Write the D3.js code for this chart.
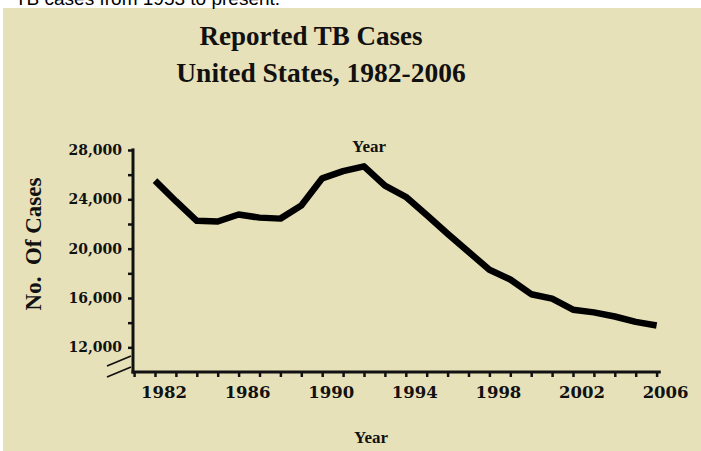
<!DOCTYPE html>
<html>
<head>
<meta charset="utf-8">
<script src="https://cdn.jsdelivr.net/npm/d3@7"></script>
<style>
  html, body { margin: 0; padding: 0; background: #ffffff; }
  svg { display: block; }
</style>
</head>
<body>
<svg id="chart" width="701" height="451"></svg>
<script>
// ---- data ----
const years = [1982, 1983, 1984, 1985, 1986, 1987, 1988, 1989, 1990, 1991, 1992, 1993,
               1994, 1995, 1996, 1997, 1998, 1999, 2000, 2001, 2002, 2003, 2004, 2005, 2006];
const cases = [25520, 23846, 22255, 22201, 22768, 22517, 22436, 23495, 25701, 26283, 26673, 25108,
               24206, 22727, 21210, 19751, 18286, 17500, 16308, 15945, 15055, 14835, 14499, 14065, 13767];
const xTickLabels = [1982, 1986, 1990, 1994, 1998, 2002, 2006];
const yTickValues = [12000, 14000, 16000, 18000, 20000, 22000, 24000, 26000, 28000];
const yTickLabels = [12000, 16000, 20000, 24000, 28000];
const titleLines = ["Reported TB Cases", "United States, 1982-2006"];
const captionText = "TB cases from 1953 to present.";

// ---- drawing ----
const svg = d3.select("#chart");
const ink = "#111111";
const serif = "'Liberation Serif', 'Times New Roman', serif";
const numFont = "'DejaVu Serif', serif";

svg.append("rect").attr("x", 3).attr("y", 8).attr("width", 698).attr("height", 443)
  .attr("fill", "#e7e1ba");

svg.append("text").attr("x", 15).attr("y", 5)
  .attr("font-family", "'Liberation Sans', Arial, sans-serif").attr("font-size", 19)
  .attr("fill", "#000").text(captionText);

svg.append("text").attr("x", 311).attr("y", 45).attr("text-anchor", "middle")
  .attr("font-family", serif).attr("font-weight", "bold").attr("font-size", 27)
  .attr("fill", ink).text(titleLines[0]);
svg.append("text").attr("x", 321).attr("y", 82).attr("text-anchor", "middle")
  .attr("font-family", serif).attr("font-weight", "bold").attr("font-size", 27.5)
  .attr("fill", ink).text(titleLines[1]);

const x = d3.scaleLinear().domain([1982, 2006]).range([155, 656.6]);
const y = d3.scaleLinear().domain([10000, 28000]).range([372, 150]);

// Y axis
const yAxis = d3.axisLeft(y).tickValues(yTickValues).tickSize(5).tickSizeOuter(0).tickPadding(6)
  .tickFormat(d => yTickLabels.includes(d) ? d3.format(",")(d) : "");
const gy = svg.append("g").attr("transform", "translate(133,0)").call(yAxis);
gy.select(".domain").remove();
gy.selectAll(".tick line").attr("stroke", ink).attr("stroke-width", 2.5);
gy.selectAll(".tick text").attr("font-family", numFont).attr("font-weight", "bold")
  .attr("font-size", 14).attr("fill", ink);
svg.append("line").attr("x1", 133).attr("x2", 133).attr("y1", y(28130)).attr("y2", 373.5)
  .attr("stroke", ink).attr("stroke-width", 3);

// X axis
const xAxis = d3.axisBottom(x).tickValues(d3.range(1981, 2007)).tickSize(5).tickSizeOuter(0)
  .tickFormat(d => xTickLabels.includes(d) ? String(d) : "");
const gx = svg.append("g").attr("transform", "translate(0,372)").call(xAxis);
gx.select(".domain").remove();
gx.selectAll(".tick line").attr("stroke", ink).attr("stroke-width", 2.5);
gx.selectAll(".tick text").attr("font-family", numFont).attr("font-weight", "bold")
  .attr("font-size", 16.5).attr("fill", ink).attr("y", 26).attr("dy", 0).attr("dx", 8.5);
svg.append("line").attr("x1", 131.5).attr("x2", x(2006.2)).attr("y1", 372).attr("y2", 372)
  .attr("stroke", ink).attr("stroke-width", 3);

// axis break marks
const brk = svg.append("g").attr("stroke", ink).attr("stroke-width", 1.8);
brk.append("line").attr("x1", 107).attr("y1", 366).attr("x2", 131).attr("y2", 356);
brk.append("line").attr("x1", 107).attr("y1", 377).attr("x2", 131).attr("y2", 367);

// axis titles
svg.append("text").attr("transform", "translate(41,244) rotate(-90)").attr("text-anchor", "middle")
  .attr("font-family", serif).attr("font-weight", "bold").attr("font-size", 23)
  .attr("fill", ink).attr("xml:space", "preserve").text("No.  Of Cases");
svg.append("text").attr("x", 371).attr("y", 443).attr("text-anchor", "middle")
  .attr("font-family", serif).attr("font-weight", "bold").attr("font-size", 17)
  .attr("fill", ink).text("Year");
svg.append("text").attr("x", 369).attr("y", 151.5).attr("text-anchor", "middle")
  .attr("font-family", serif).attr("font-weight", "bold").attr("font-size", 17)
  .attr("fill", ink).text("Year");

// line
const line = d3.line().x((d, i) => x(years[i])).y(d => y(d));
svg.append("path").datum(cases).attr("d", line)
  .attr("fill", "none").attr("stroke", "#000").attr("stroke-width", 6.5)
  .attr("stroke-linejoin", "round").attr("stroke-linecap", "butt");
</script>
</body>
</html>
